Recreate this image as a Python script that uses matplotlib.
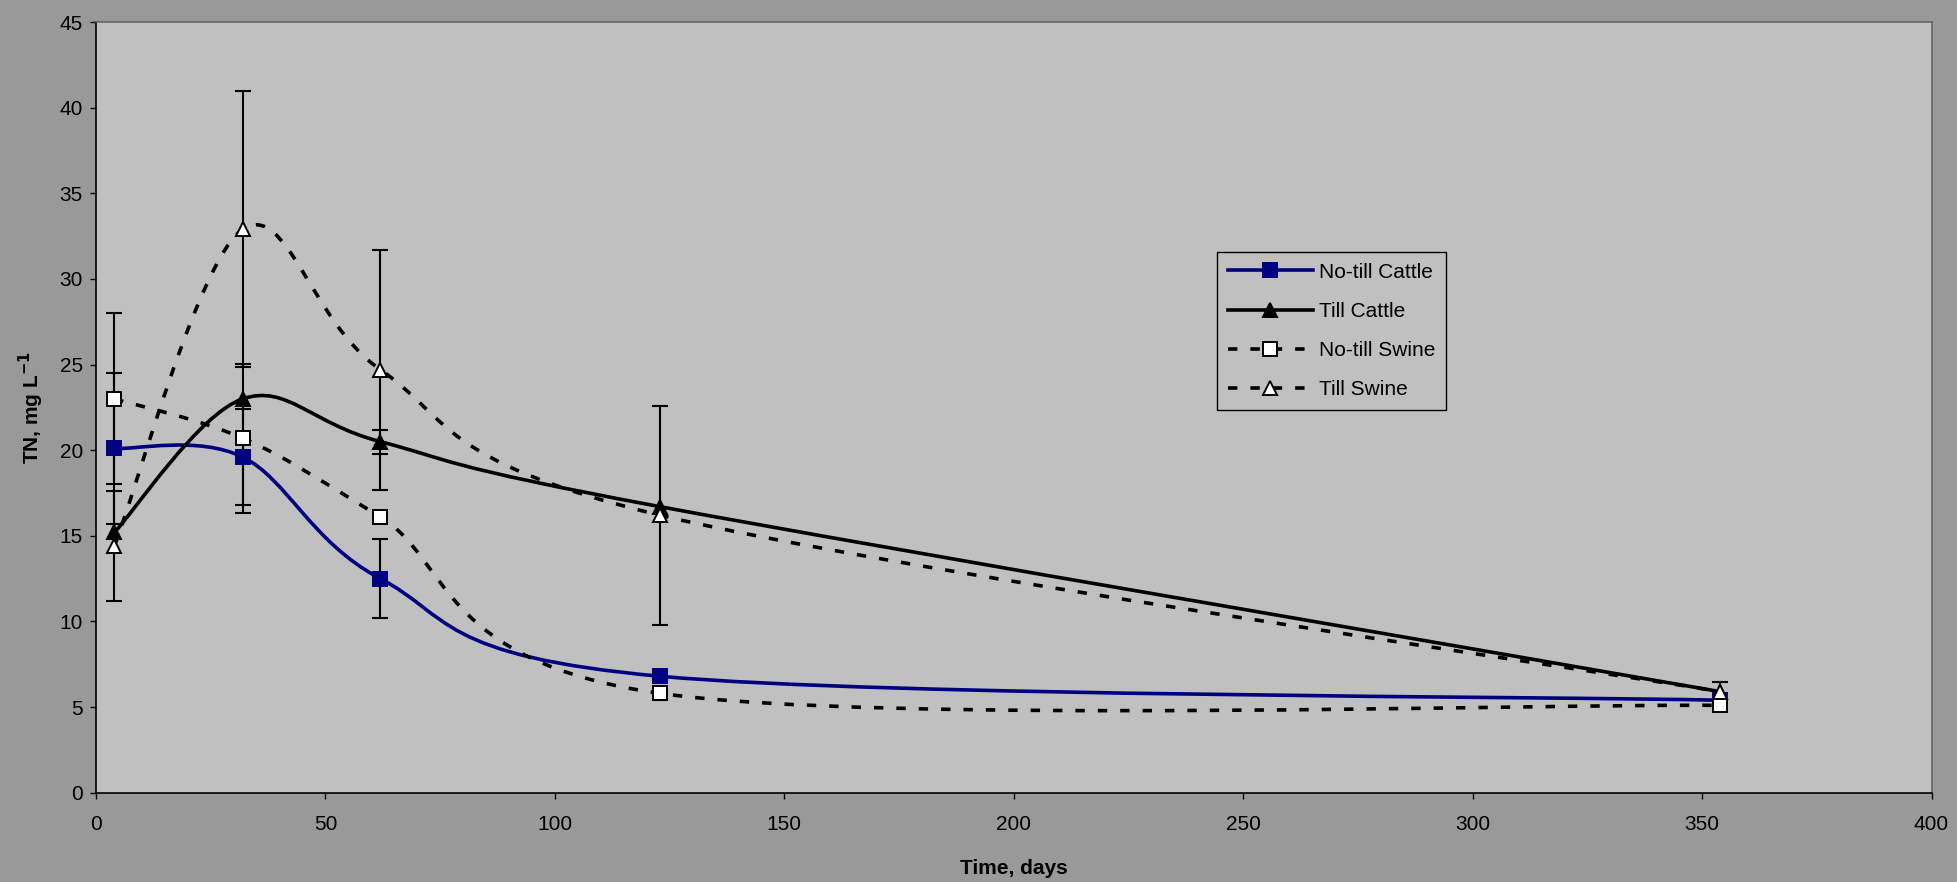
import numpy as np
import matplotlib.pyplot as plt
from matplotlib.path import Path
from matplotlib.patches import PathPatch
from matplotlib.lines import Line2D

plt.rcParams['font.family'] = ['Liberation Sans', 'DejaVu Sans']

# sampling days
days = [4, 32, 62, 123, 354]

# TN concentration, mg/L
notill_cattle = [20.1, 19.6, 12.5, 6.8, 5.4]
till_cattle = [15.2, 23.0, 20.5, 16.7, 5.9]
notill_swine = [23.0, 20.7, 16.1, 5.8, 5.1]
till_swine = [14.4, 32.9, 24.7, 16.2, 5.9]

# error bars (nan = none shown)
notill_cattle_err = [4.4, 2.8, 2.3, 0.2, np.nan]
till_cattle_err = [np.nan, np.nan, 0.7, np.nan, np.nan]
notill_swine_err = [5.0, 4.35, np.nan, 0.4, 0.3]
till_swine_err = [3.2, 8.05, 7.0, 6.4, 0.55]

labels = ['No-till Cattle', 'Till Cattle', 'No-till Swine', 'Till Swine']


def smooth_path(x, y):
    # Excel-like smoothed line: cubic bezier through every point
    p = np.column_stack([x, y]).astype(float)
    ext = np.vstack([p[0], p, p[-1]])
    verts = [p[0]]
    codes = [Path.MOVETO]
    for i in range(len(p) - 1):
        p0, p1, p2, p3 = ext[i], ext[i + 1], ext[i + 2], ext[i + 3]
        verts += [p1 + (p2 - p0) / 6, p2 - (p3 - p1) / 6, p2]
        codes += [Path.CURVE4] * 3
    return Path(verts, codes)


navy = '#000080'
dash = (0, (2.6, 3.6))
lw = 2.6

styles = [
    dict(color=navy, ls='-', marker='s', mfc=navy, mec=navy),
    dict(color='black', ls='-', marker='^', mfc='black', mec='black'),
    dict(color='black', ls=dash, marker='s', mfc='white', mec='black'),
    dict(color='black', ls=dash, marker='^', mfc='white', mec='black'),
]
series = [notill_cattle, till_cattle, notill_swine, till_swine]
errs = [notill_cattle_err, till_cattle_err, notill_swine_err, till_swine_err]

fig = plt.figure(figsize=(19.57, 8.82), dpi=100, facecolor='#999999')
ax = fig.add_axes([0.049, 0.1012, 0.938, 0.8738])
ax.set_facecolor('#C0C0C0')

handles = []
for vals, err, st, lab in zip(series, errs, styles, labels):
    ax.add_patch(PathPatch(smooth_path(days, vals), fill=False, edgecolor=st['color'],
                           linewidth=lw, linestyle=st['ls'], zorder=2, capstyle='butt'))
    ax.errorbar(days, vals, yerr=err, fmt='none', ecolor='black', elinewidth=1.5,
                capsize=5.5, capthick=1.5, zorder=3)
    ax.plot(days, vals, linestyle='none', marker=st['marker'], markersize=10,
            markerfacecolor=st['mfc'], markeredgecolor=st['mec'], markeredgewidth=1.4, zorder=4)
    handles.append(Line2D([], [], color=st['color'], linestyle=st['ls'], linewidth=lw,
                          marker=st['marker'], markersize=10, markerfacecolor=st['mfc'],
                          markeredgecolor=st['mec'], markeredgewidth=1.4))

ax.set_xlim(0, 400)
ax.set_ylim(0, 45)
ax.set_xticks(np.arange(0, 401, 50))
ax.set_yticks(np.arange(0, 46, 5))
ax.tick_params(axis='y', direction='out', length=4.3, width=1, labelsize=15, pad=5)
ax.tick_params(axis='x', direction='out', length=4, width=1, labelsize=15, pad=12)

for s in ['left', 'bottom']:
    ax.spines[s].set_color('black')
    ax.spines[s].set_linewidth(1.2)
for s in ['top', 'right']:
    ax.spines[s].set_color('#666666')
    ax.spines[s].set_linewidth(1.2)

ax.set_xlabel('Time, days', fontsize=15, fontweight='bold', labelpad=18)
ax.set_ylabel(r'TN, mg L$^{\mathbf{-1}}$', fontsize=15, fontweight='bold')
ax.yaxis.set_label_coords(-0.027, 0.5)

leg = fig.legend(handles=handles, labels=labels, loc='upper left',
                 bbox_to_anchor=(0.622, 0.714), borderaxespad=0, fontsize=15,
                 handlelength=4.1, handletextpad=0.3, labelspacing=0.97,
                 borderpad=0.5, numpoints=1, fancybox=False, framealpha=1)
leg.get_frame().set_facecolor('#C0C0C0')
leg.get_frame().set_edgecolor('black')
leg.get_frame().set_linewidth(1)

fig.savefig('out.png', dpi=100, facecolor=fig.get_facecolor())
